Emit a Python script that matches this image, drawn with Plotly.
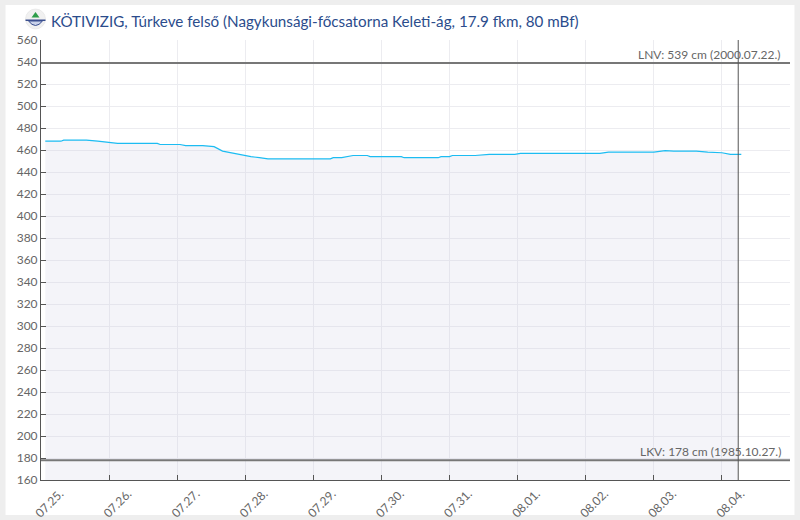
import plotly.graph_objects as go

# vízállás, cm
times = ["2024-07-25 01:30", "2024-07-25 07:00", "2024-07-25 08:00", "2024-07-25 16:00", "2024-07-25 20:00",
         "2024-07-26 00:00", "2024-07-26 03:00", "2024-07-26 17:00", "2024-07-26 18:00", "2024-07-27 01:00",
         "2024-07-27 03:00", "2024-07-27 09:00", "2024-07-27 11:00", "2024-07-27 13:00", "2024-07-27 16:00",
         "2024-07-27 18:00", "2024-07-27 21:30", "2024-07-27 23:00", "2024-07-28 02:00", "2024-07-28 05:00",
         "2024-07-28 08:00", "2024-07-29 06:00", "2024-07-29 07:00", "2024-07-29 10:00", "2024-07-29 14:00",
         "2024-07-29 19:00", "2024-07-29 20:00", "2024-07-30 07:00", "2024-07-30 08:00", "2024-07-30 20:00",
         "2024-07-30 21:00", "2024-07-31 00:00", "2024-07-31 01:00", "2024-07-31 09:00", "2024-07-31 14:00",
         "2024-07-31 23:00", "2024-08-01 01:00", "2024-08-02 05:00", "2024-08-02 08:00", "2024-08-03 00:00",
         "2024-08-03 04:00", "2024-08-03 07:00", "2024-08-03 15:00", "2024-08-03 19:00", "2024-08-04 00:00",
         "2024-08-04 03:00", "2024-08-04 05:45", "2024-08-04 06:50"]
levels = [468, 468, 469, 469, 468,
          467, 466, 466, 465, 465,
          464, 464, 463.5, 463, 459,
          458, 456, 455, 454, 453,
          452, 452, 453, 453, 455,
          455, 454, 454, 453, 453,
          454, 454, 455, 455, 456,
          456, 457, 457, 458, 458,
          459.5, 459, 459, 458, 457.5,
          456, 456, 456]
# a kitöltés az utolsó mért értékig tart
fill_times = times[:-1]
fill_levels = levels[:-1]

tick_vals = ["2024-07-25", "2024-07-26", "2024-07-27", "2024-07-28", "2024-07-29", "2024-07-30",
             "2024-07-31", "2024-08-01", "2024-08-02", "2024-08-03", "2024-08-04", "2024-08-05"]
tick_text = ["07.25.", "07.26.", "07.27.", "07.28.", "07.29.", "07.30.",
             "07.31.", "08.01.", "08.02.", "08.03.", "08.04.", ""]
y_ticks = list(range(160, 561, 20))

lnv = 539
lkv = 178
lnv_text = "LNV: 539 cm (2000.07.22.)"
lkv_text = "LKV: 178 cm (1985.10.27.)"
now = "2024-08-04 05:45"
title = "KÖTIVIZIG, Túrkeve felső (Nagykunsági-főcsatorna Keleti-ág, 17.9 fkm, 80 mBf)"

FONT = "Lato"
W, H = 800, 520
L, R, T, B = 40.5, 790.5, 40, 480


def px(x):
    return (x - L) / (R - L)


def py(y):
    return (B - y) / (B - T)


fig = go.Figure()
fig.add_trace(go.Scatter(x=fill_times, y=fill_levels, mode="none", fill="tozeroy",
                         fillcolor="rgba(203,207,227,0.22)", hoverinfo="skip"))
fig.add_trace(go.Scatter(x=times, y=levels, mode="lines",
                         line=dict(color="#1cbcf2", width=1.2)))

shapes = [
    # fehér kártya
    dict(type="rect", xref="paper", yref="paper", x0=px(5), x1=px(795), y0=py(515), y1=py(5),
         fillcolor="white", line_width=0, layer="below"),
    dict(type="line", xref="paper", yref="y", x0=0, x1=1, y0=lnv, y1=lnv,
         line=dict(color="#777777", width=2)),
    dict(type="line", xref="paper", yref="y", x0=0, x1=1, y0=lkv, y1=lkv,
         line=dict(color="#777777", width=2)),
    dict(type="line", xref="x", yref="paper", x0=now, x1=now, y0=0, y1=1,
         line=dict(color="#555555", width=1)),
    # logó
    dict(type="circle", xref="paper", yref="paper", x0=px(25), x1=px(45), y0=py(29), y1=py(9),
         fillcolor="#f1f1f1", line=dict(color="#dddddd", width=0.5)),
    dict(type="path", xref="paper", yref="paper",
         path=f"M {px(35)} {py(12)} L {px(39)} {py(17.5)} L {px(31)} {py(17.5)} Z",
         fillcolor="#2e9e4a", line_width=0),
    dict(type="rect", xref="paper", yref="paper", x0=px(25), x1=px(45), y0=py(21), y1=py(19.5),
         fillcolor="#3a4f8f", line_width=0),
    dict(type="path", xref="paper", yref="paper",
         path=f"M {px(28)} {py(21)} Q {px(35)} {py(30)} {px(42)} {py(21)} Z",
         fillcolor="#c9d2ea", line=dict(color="#3a4f8f", width=1)),
]

annotations = [
    dict(xref="paper", yref="paper", x=px(48.5), y=py(21), text=title, showarrow=False,
         xanchor="left", yanchor="middle", font=dict(family=FONT, size=15.2, color="#2b4c8c")),
    dict(xref="paper", yref="paper", x=px(783.5), y=py(54), text=lnv_text, showarrow=False,
         xanchor="right", yanchor="middle", font=dict(family=FONT, size=12, color="#666666")),
    dict(xref="paper", yref="paper", x=px(783.5), y=py(451), text=lkv_text, showarrow=False,
         xanchor="right", yanchor="middle", font=dict(family=FONT, size=12, color="#666666")),
]

fig.update_layout(
    width=W, height=H,
    margin=dict(l=L, r=W - R, t=T, b=H - B, pad=0),
    paper_bgcolor="#eeeeee",
    plot_bgcolor="rgba(0,0,0,0)",
    showlegend=False,
    shapes=shapes,
    annotations=annotations,
    font=dict(family=FONT, size=12, color="#666666"),
)
fig.update_xaxes(type="date", range=["2024-07-25", "2024-08-05"], automargin=False,
                 tickmode="array", tickvals=tick_vals, ticktext=tick_text, tickangle=-45,
                 ticklabelshift=19, ticklabelstandoff=1,
                 ticks="inside", ticklen=5, tickcolor="#555555", tickwidth=1,
                 showline=True, linecolor="#555555", linewidth=1,
                 showgrid=True, gridcolor="#ececf0", gridwidth=1, zeroline=False,
                 tickfont=dict(family=FONT, size=12, color="#666666"))
fig.update_yaxes(range=[160, 560], automargin=False, tickmode="array", tickvals=y_ticks,
                 ticks="inside", ticklen=5, tickcolor="#555555", tickwidth=1,
                 showline=True, linecolor="#555555", linewidth=1,
                 showgrid=True, gridcolor="#ececf0", gridwidth=1, zeroline=False,
                 tickfont=dict(family=FONT, size=12, color="#666666"))

# a böngésző alapértelmezett 8px-es margója nélkül
fig.write_html("out.html", config=dict(displayModeBar=False),
               post_script="document.body.style.margin='0';document.body.style.overflow='hidden';")
